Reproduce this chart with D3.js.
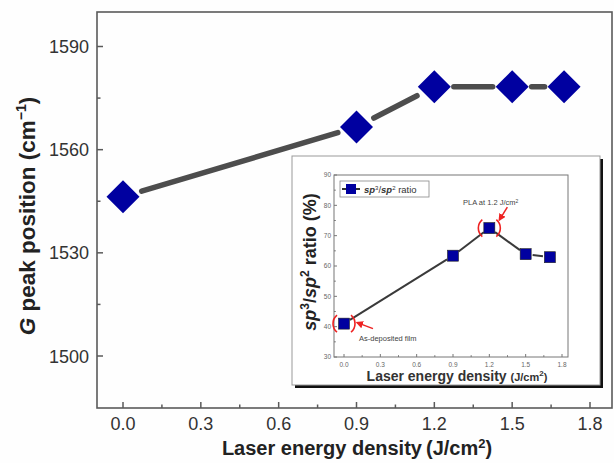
<!DOCTYPE html>
<html><head><meta charset="utf-8">
<script src="https://cdn.jsdelivr.net/npm/d3@7/dist/d3.min.js"></script>
<style>
body{margin:0;background:#fff;}
text{font-family:Arial,"Liberation Sans",sans-serif;}
</style></head><body>
<script>
// Main chart data
const mainX = [0.0, 0.9, 1.2, 1.5, 1.7];
const mainY = [1546.3, 1566.6, 1578.3, 1578.3, 1578.3];
const mainXTicks = [0.0, 0.3, 0.6, 0.9, 1.2, 1.5, 1.8];
const mainYTicks = [1500, 1530, 1560, 1590];
// Inset data
const insetX = [0.0, 0.9, 1.2, 1.5, 1.7];
const insetY = [41.0, 63.4, 72.5, 63.9, 62.9];
const insetXTicks = [0.0, 0.3, 0.6, 0.9, 1.2, 1.5, 1.8];
const insetYTicks = [30, 40, 50, 60, 70, 80, 90];

const W = 614, H = 463;
const svg = d3.select("body").append("svg").attr("width", W).attr("height", H);
svg.append("rect").attr("width", W).attr("height", H).attr("fill", "#fefefe");

const axisCol = "#5a5a5a", labCol = "#333";
const blue = "#0000a0";

// ---------- MAIN ----------
const L = 97, R = 612, T = 12, B = 408;
const xPer = (590-123)/1.8;
const x = d3.scaleLinear().domain([(L-123)/xPer, (R-123)/xPer]).range([L, R]);
const yPer = (356 - 46.5) / 90;
const y = d3.scaleLinear().domain([1500 - (B-356)/yPer, 1590 + (46.5-T)/yPer]).range([B, T]);

const g = svg.append("g");
g.append("rect").attr("x", L).attr("y", T).attr("width", R-L).attr("height", B-T)
  .attr("fill", "none").attr("stroke", axisCol).attr("stroke-width", 1.6);

const xMinor = d3.range(0.15, 1.8, 0.3);
g.selectAll(".xt").data(mainXTicks).join("line")
  .attr("x1", d=>x(d)).attr("x2", d=>x(d)).attr("y1", B).attr("y2", B-6)
  .attr("stroke", axisCol).attr("stroke-width", 1.5);
g.selectAll(".xm").data(xMinor).join("line")
  .attr("x1", d=>x(d)).attr("x2", d=>x(d)).attr("y1", B).attr("y2", B-3.5)
  .attr("stroke", axisCol).attr("stroke-width", 1.5);
g.selectAll(".xl").data(mainXTicks).join("text")
  .attr("x", d=>x(d)).attr("y", B+22).attr("text-anchor", "middle")
  .attr("font-size", 18).attr("fill", labCol).text(d=>d.toFixed(1));

const yMinor = [1485, 1515, 1545, 1575];
g.selectAll(".yt").data(mainYTicks).join("line")
  .attr("x1", L).attr("x2", L+6).attr("y1", d=>y(d)).attr("y2", d=>y(d))
  .attr("stroke", axisCol).attr("stroke-width", 1.5);
g.selectAll(".ym").data(yMinor.filter(v=>y(v)<B-1)).join("line")
  .attr("x1", L).attr("x2", L+3.5).attr("y1", d=>y(d)).attr("y2", d=>y(d))
  .attr("stroke", axisCol).attr("stroke-width", 1.5);
g.selectAll(".yl").data(mainYTicks).join("text")
  .attr("x", L-8).attr("y", d=>y(d)+6.5).attr("text-anchor", "end")
  .attr("font-size", 18).attr("fill", labCol).text(d=>d);

g.append("text").attr("x", 357).attr("y", 455).attr("text-anchor", "middle")
  .attr("font-size", 20).attr("font-weight", "bold").attr("fill", "#222")
  .html('Laser energy density<tspan dx="4">(J/cm</tspan><tspan dy="-7" font-size="13">2</tspan><tspan dy="7">)</tspan>');
g.append("text").attr("transform", "translate(35,216) rotate(-90)").attr("text-anchor", "middle")
  .attr("font-size", 22.5).attr("font-weight", "bold").attr("fill", "#222")
  .html('<tspan font-style="italic">G</tspan> peak position (cm<tspan dy="-9" font-size="14">−1</tspan><tspan dy="9">)</tspan>');

const pts = mainX.map((v,i)=>[x(v), y(mainY[i])]);
const rD = 16.5, gap = rD + 3;
for (let i = 0; i < pts.length-1; i++) {
  const [x1,y1] = pts[i], [x2,y2] = pts[i+1];
  const dx = x2-x1, dy = y2-y1, len = Math.hypot(dx,dy);
  const ux = dx/len, uy = dy/len;
  g.append("line").attr("x1", x1+ux*gap).attr("y1", y1+uy*gap)
    .attr("x2", x2-ux*gap).attr("y2", y2-uy*gap)
    .attr("stroke", "#4d4d4d").attr("stroke-width", 5.5).attr("stroke-linecap", "round");
}
g.selectAll(".dm").data(pts).join("path")
  .attr("d", d=>`M${d[0]},${d[1]-rD}L${d[0]+rD},${d[1]}L${d[0]},${d[1]+rD}L${d[0]-rD},${d[1]}Z`)
  .attr("fill", blue);

// ---------- INSET ----------
const ig = svg.append("g");
const bx = 292, by = 156, bw = 308, bh = 229;
ig.append("rect").attr("x", bx+3).attr("y", by+3).attr("width", bw).attr("height", bh).attr("fill", "#111");
ig.append("rect").attr("x", bx).attr("y", by).attr("width", bw).attr("height", bh)
  .attr("fill", "#fff").attr("stroke", "#999").attr("stroke-width", 1);

const iL = 334, iR = 568, iT = 175, iB = 357;
const ixPer = (562-344)/1.8;
const ix = d3.scaleLinear().domain([(iL-344)/ixPer, (iR-344)/ixPer]).range([iL, iR]);
const iy = d3.scaleLinear().domain([30, 90]).range([iB, iT]);

ig.append("rect").attr("x", iL).attr("y", iT).attr("width", iR-iL).attr("height", iB-iT)
  .attr("fill", "none").attr("stroke", "#777").attr("stroke-width", 1);
ig.selectAll(".ixt").data(insetXTicks).join("line")
  .attr("x1", d=>ix(d)).attr("x2", d=>ix(d)).attr("y1", iB).attr("y2", iB-3)
  .attr("stroke", "#777");
ig.selectAll(".ixm").data(d3.range(0.15, 1.8, 0.3)).join("line")
  .attr("x1", d=>ix(d)).attr("x2", d=>ix(d)).attr("y1", iB).attr("y2", iB-1.8)
  .attr("stroke", "#777");
ig.selectAll(".ixl").data(insetXTicks).join("text")
  .attr("x", d=>ix(d)).attr("y", iB+10).attr("text-anchor", "middle")
  .attr("font-size", 6.5).attr("fill", "#666").text(d=>d.toFixed(1));
ig.selectAll(".iyt").data(insetYTicks).join("line")
  .attr("x1", iL).attr("x2", iL+3).attr("y1", d=>iy(d)).attr("y2", d=>iy(d))
  .attr("stroke", "#777");
ig.selectAll(".iym").data(d3.range(35, 90, 10)).join("line")
  .attr("x1", iL).attr("x2", iL+1.8).attr("y1", d=>iy(d)).attr("y2", d=>iy(d))
  .attr("stroke", "#777");
ig.selectAll(".iyl").data(insetYTicks).join("text")
  .attr("x", iL-3).attr("y", d=>iy(d)+2.3).attr("text-anchor", "end")
  .attr("font-size", 6.5).attr("fill", "#666").text(d=>d);

ig.append("text").attr("x", 457).attr("y", 381).attr("text-anchor", "middle")
  .attr("font-size", 14).attr("font-weight", "bold").attr("fill", "#333")
  .html('Laser energy density <tspan font-size="11">(J/cm</tspan><tspan dy="-5" font-size="8">2</tspan><tspan dy="5" font-size="11">)</tspan>');
ig.append("text").attr("transform", "translate(316,262) rotate(-90)").attr("text-anchor", "middle")
  .attr("font-size", 18).attr("font-weight", "bold").attr("fill", "#222")
  .html('<tspan font-style="italic">sp</tspan><tspan dy="-7" font-size="12">3</tspan><tspan dy="7">/</tspan><tspan font-style="italic">sp</tspan><tspan dy="-7" font-size="12">2</tspan><tspan dy="7"> ratio (%)</tspan>');

const ipts = insetX.map((v,i)=>[ix(v), iy(insetY[i])]);
const sq = 11;
for (let i = 0; i < ipts.length-1; i++) {
  const [x1,y1] = ipts[i], [x2,y2] = ipts[i+1];
  const dx = x2-x1, dy = y2-y1, len = Math.hypot(dx,dy);
  const ux = dx/len, uy = dy/len, gp = 7;
  ig.append("line").attr("x1", x1+ux*gp).attr("y1", y1+uy*gp)
    .attr("x2", x2-ux*gp).attr("y2", y2-uy*gp)
    .attr("stroke", "#3a3a3a").attr("stroke-width", 2);
}
ig.selectAll(".sq").data(ipts).join("rect")
  .attr("x", d=>d[0]-sq/2).attr("y", d=>d[1]-sq/2).attr("width", sq).attr("height", sq)
  .attr("fill", blue).attr("stroke", "#222").attr("stroke-width", 0.6);

// legend
ig.append("rect").attr("x", 340).attr("y", 181).attr("width", 89).attr("height", 16)
  .attr("fill", "#fff").attr("stroke", "#888").attr("stroke-width", 0.8);
ig.append("line").attr("x1", 342).attr("x2", 360).attr("y1", 189).attr("y2", 189)
  .attr("stroke", "#333").attr("stroke-width", 2);
ig.append("rect").attr("x", 346).attr("y", 184).attr("width", 10).attr("height", 10).attr("fill", blue);
ig.append("text").attr("x", 364).attr("y", 193).attr("font-size", 9.5).attr("fill", "#333")
  .html('<tspan font-style="italic" font-weight="bold">sp</tspan><tspan dy="-3.5" font-size="6">3</tspan><tspan dy="3.5">/</tspan><tspan font-style="italic" font-weight="bold">sp</tspan><tspan dy="-3.5" font-size="6">2</tspan><tspan dy="3.5"> ratio</tspan>');

// red annotations
const red = "#ee2222";
const p0 = ipts[0], p2 = ipts[2];
function bracket(cx, cy, side, r) {
  const a0 = side < 0 ? Math.PI*0.72 : -Math.PI*0.28, a1 = side < 0 ? Math.PI*1.28 : Math.PI*0.28;
  const arc = d3.path();
  arc.arc(cx, cy, r, a0, a1);
  return arc.toString();
}
[p0, p2].forEach(p=>{
  ig.append("path").attr("d", bracket(p[0], p[1], -1, 11)).attr("fill", "none").attr("stroke", red).attr("stroke-width", 1.6);
  ig.append("path").attr("d", bracket(p[0], p[1], 1, 11)).attr("fill", "none").attr("stroke", red).attr("stroke-width", 1.6);
});
ig.append("defs").append("marker").attr("id", "ah").attr("viewBox", "0 0 10 10")
  .attr("refX", 8).attr("refY", 5).attr("markerWidth", 5).attr("markerHeight", 5).attr("orient", "auto")
  .append("path").attr("d", "M0,0L10,5L0,10Z").attr("fill", red);
ig.append("line").attr("x1", p0[0]+29).attr("y1", p0[1]+5).attr("x2", p0[0]+13).attr("y2", p0[1]-1)
  .attr("stroke", red).attr("stroke-width", 1.5).attr("marker-end", "url(#ah)");
ig.append("text").attr("x", 359).attr("y", 341).attr("font-size", 7.5).attr("fill", "#444").text("As-deposited film");
ig.append("line").attr("x1", p2[0]+18).attr("y1", p2[1]-21).attr("x2", p2[0]+10).attr("y2", p2[1]-8)
  .attr("stroke", red).attr("stroke-width", 1.5).attr("marker-end", "url(#ah)");
ig.append("text").attr("x", 463).attr("y", 205).attr("font-size", 7.5).attr("fill", "#444")
  .html('PLA at 1.2 J/cm<tspan dy="-2.5" font-size="5">2</tspan>');
</script></body></html>
